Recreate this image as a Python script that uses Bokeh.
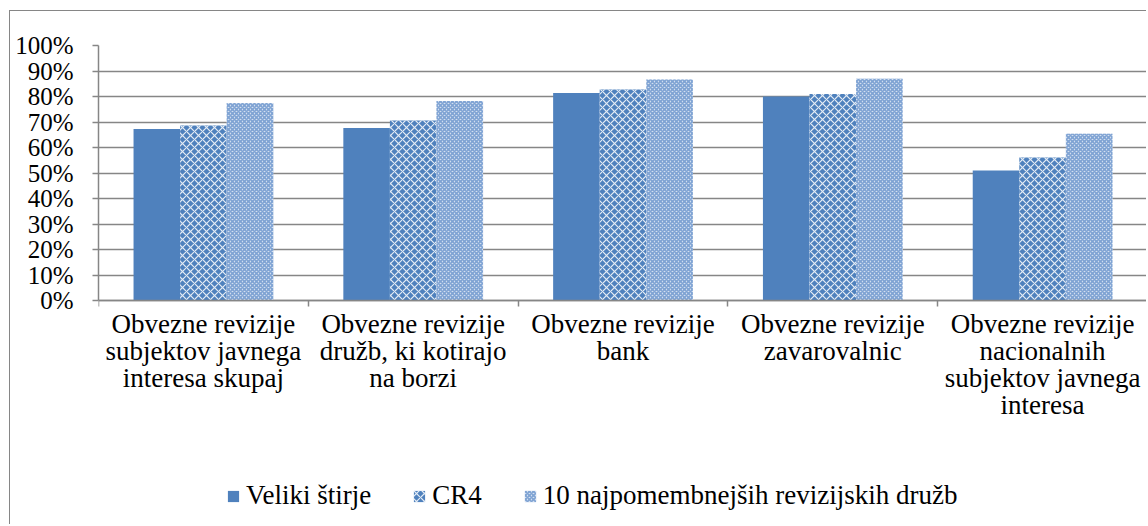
from bokeh.plotting import figure
from bokeh.models import (LinearAxis, FixedTicker, NumeralTickFormatter, Range1d,
                          Legend, LegendItem, ColumnDataSource)
from bokeh.transform import dodge
from bokeh.embed import file_html
from bokeh.resources import INLINE

categories = [
    "Obvezne revizije\nsubjektov javnega\ninteresa skupaj",
    "Obvezne revizije\ndružb, ki kotirajo\nna borzi",
    "Obvezne revizije\nbank",
    "Obvezne revizije\nzavarovalnic",
    "Obvezne revizije\nnacionalnih\nsubjektov javnega\ninteresa",
]
series_names = ["Veliki štirje", "CR4", "10 najpomembnejših revizijskih družb"]
veliki = [0.673, 0.676, 0.814, 0.800, 0.510]
cr4 = [0.686, 0.706, 0.827, 0.810, 0.561]
top10 = [0.775, 0.782, 0.867, 0.870, 0.654]
y_ticks = [0.0, 0.1, 0.2, 0.3, 0.4, 0.5, 0.6, 0.7, 0.8, 0.9, 1.0]

FONT = "Liberation Serif"
GRAY = "#868686"
BLUE = "#4F81BD"

n = len(categories)
centers = [i + 0.5 for i in range(n)]
bounds = [float(i) for i in range(n + 1)]

src = ColumnDataSource(dict(x=centers, veliki=veliki, cr4=cr4, top10=top10))

# frame spans down to the bottom so the legend can live inside it;
# 0..1 occupies 255 px of the 480 px frame
y_bottom = -(480 - 255) / 255

p = figure(width=1137, height=514, x_range=Range1d(0, n), y_range=Range1d(y_bottom, 1),
           x_axis_type=None, output_backend="svg", toolbar_location=None,
           min_border_left=88, min_border_right=0, min_border_top=34,
           min_border_bottom=0,
           styles={"margin-left": "9px", "margin-top": "10px",
                   "border-left": "1px solid #868686", "border-top": "1px solid #868686"})
p.outline_line_color = None
p.background_fill_color = "white"

# y axis
p.yaxis.ticker = FixedTicker(ticks=y_ticks)
p.yaxis.bounds = (0, 1)
p.yaxis.formatter = NumeralTickFormatter(format="0%")
p.yaxis.major_label_text_font = FONT
p.yaxis.major_label_text_font_size = "25px"
p.yaxis.major_label_text_color = "black"
p.yaxis.major_label_standoff = 19
p.yaxis.major_tick_out = 6
p.yaxis.major_tick_in = 0
p.yaxis.minor_tick_line_color = None
p.yaxis.axis_line_color = GRAY
p.yaxis.axis_line_width = 1.5
p.yaxis.major_tick_line_color = GRAY
p.yaxis.major_tick_line_width = 1.5
p.ygrid.grid_line_color = GRAY
p.ygrid.grid_line_width = 1.5

# x axes at y=0: ticks at boundaries, labels at centers
xa1 = LinearAxis(ticker=FixedTicker(ticks=bounds), fixed_location=0,
                 major_label_overrides={b: " " for b in bounds},
                 major_label_text_font_size="1px",
                 major_label_standoff=0, major_tick_out=6, major_tick_in=0,
                 minor_tick_line_color=None, axis_line_color=GRAY, axis_line_width=1.5,
                 major_tick_line_color=GRAY, major_tick_line_width=1.5)
xa2 = LinearAxis(ticker=FixedTicker(ticks=centers), fixed_location=0,
                 major_label_overrides={c: lab for c, lab in zip(centers, categories)},
                 axis_line_color=None, major_tick_line_color=None, minor_tick_line_color=None,
                 major_tick_out=0, major_tick_in=0, major_label_standoff=8,
                 major_label_text_font=FONT, major_label_text_font_size="27px",
                 major_label_text_color="black", major_label_text_line_height=0.91)
p.add_layout(xa1, "below")
p.add_layout(xa2, "below")

w = 0.222
r1 = p.vbar(x=dodge("x", -w, range=p.x_range), top="veliki", width=w, source=src,
            fill_color=BLUE, line_color=None)
r2 = p.vbar(x=dodge("x", 0, range=p.x_range), top="cr4", width=w, source=src,
            fill_color=BLUE, line_color=None, hatch_pattern="diagonal_cross",
            hatch_color="white", hatch_weight=1.2, hatch_scale=8, hatch_alpha=0.85)
r3 = p.vbar(x=dodge("x", w, range=p.x_range), top="top10", width=w, source=src,
            fill_color="#D4E0F0", line_color=None, hatch_pattern="diagonal_cross",
            hatch_color="#7FA3D3", hatch_weight=1.6, hatch_scale=4)

legend = Legend(items=[LegendItem(label=series_names[0], renderers=[r1]),
                       LegendItem(label=series_names[1], renderers=[r2]),
                       LegendItem(label=series_names[2], renderers=[r3])],
                orientation="horizontal", location=(128, 14),
                label_text_font=FONT, label_text_font_size="27px", label_text_color="black",
                glyph_width=14, glyph_height=14, spacing=41, label_standoff=6,
                border_line_color=None, background_fill_alpha=0, padding=0, margin=0)
p.add_layout(legend)

open("out.html", "w").write(file_html(p, INLINE))
